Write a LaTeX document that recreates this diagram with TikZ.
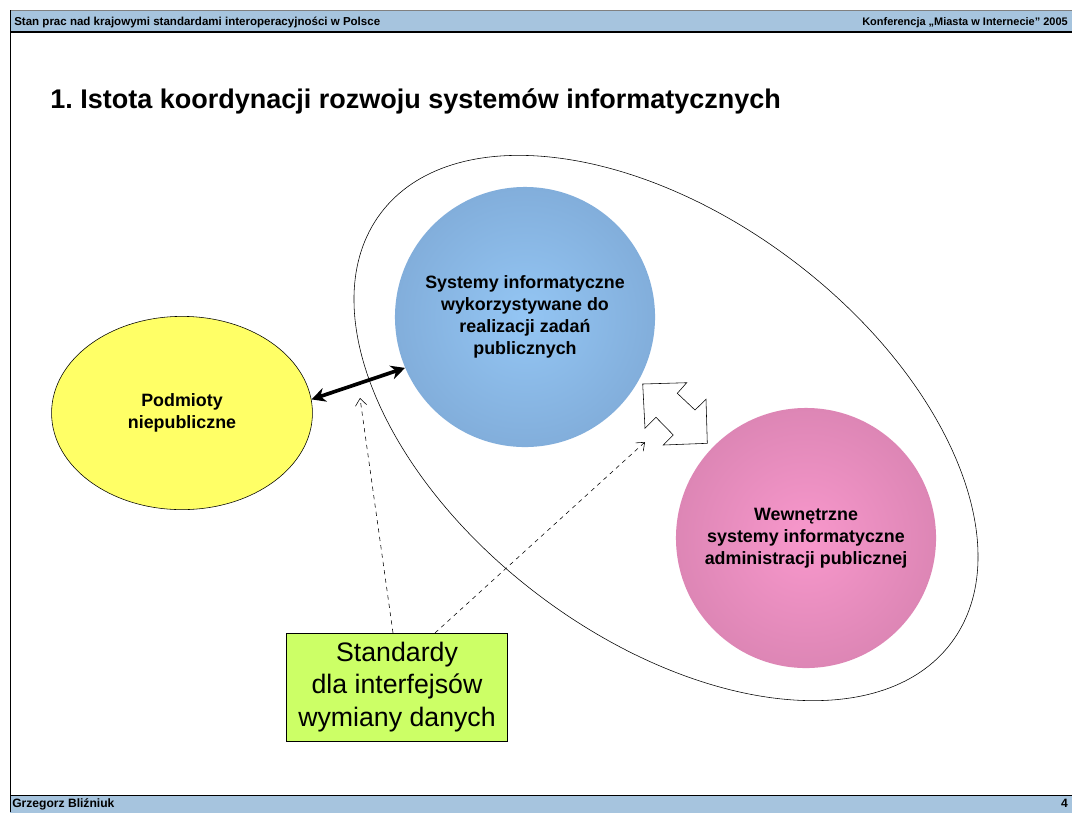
\documentclass[tikz,border=0pt]{standalone}
\usepackage{fontspec}
\setmainfont{Liberation Sans}
\usetikzlibrary{arrows.meta, shapes.geometric}
\frenchspacing

\definecolor{bandedge}{RGB}{166,196,222}
\definecolor{bandmid}{RGB}{210,238,252}
\definecolor{blueout}{RGB}{112,150,194}
\definecolor{bluein}{RGB}{148,198,244}
\definecolor{pinkout}{RGB}{194,116,158}
\definecolor{pinkin}{RGB}{248,152,204}
\definecolor{yellowfill}{RGB}{255,255,102}
\definecolor{limefill}{RGB}{204,255,102}

\pgfdeclareradialshading{bluesphere}{\pgfpoint{0bp}{0bp}}{color(0bp)=(bluein); color(50bp)=(blueout); color(100bp)=(blueout)}
\pgfdeclareradialshading{pinksphere}{\pgfpoint{0bp}{0bp}}{color(0bp)=(pinkin); color(50bp)=(pinkout); color(100bp)=(pinkout)}

\begin{document}
\begin{tikzpicture}[x=0.025cm, y=-0.025cm,
  bubble/.style={circle, minimum size=6.5cm, inner sep=0pt, align=center,
    font=\fontsize{12.7}{15.5}\selectfont\bfseries},
  stdlink/.style={dashed, thin, -{Straight Barb[length=5pt,width=8pt]}},
  band/.style={left color=bandedge, middle color=bandmid, right color=bandedge}]
\fill[white] (0,0) rectangle (1072,812);
\useasboundingbox (0,0) rectangle (1072,812);

% header and footer
\shade[band] (10,10) rectangle (1072,32);
\shade[band] (10,795) rectangle (1072,812);
\draw[thin,gray] (10,10) -- (1072,10);
\draw[line width=1.2pt] (10,32) -- (1072,32);
\draw[thin] (10,795) -- (1072,795);
\draw[thin] (10,10) -- (10,812);
\node[anchor=base west, inner sep=0pt, font=\fontsize{8.2}{10}\selectfont\bfseries] (hdrleft) at (14,25) {Stan prac nad krajowymi standardami interoperacyjności w Polsce};
\node[anchor=base east, inner sep=0pt, font=\fontsize{7.8}{10}\selectfont\bfseries] (hdrright) at (1068,25) {Konferencja „Miasta w Internecie” 2005};
\node[anchor=base west, inner sep=0pt, font=\fontsize{8.6}{10}\selectfont\bfseries] (author) at (12,807) {Grzegorz Bliźniuk};
\node[anchor=base east, inner sep=0pt, font=\fontsize{8.6}{10}\selectfont\bfseries] (pageno) at (1068,807) {4};

\node[anchor=base west, inner sep=0pt, font=\fontsize{19.2}{23}\selectfont\bfseries] (title) at (50,108) {1. Istota koordynacji rozwoju systemów informatycznych};

% public domain
\node[draw, thin, ellipse, minimum width=17.85cm, minimum height=10.5cm, rotate=-37] (domain) at (666,428) {};

\node[draw, thin, ellipse, fill=yellowfill, minimum width=6.52cm, minimum height=4.83cm, align=center,
  font=\fontsize{12.7}{15.5}\selectfont\bfseries] (outsiders) at (182,413) {Podmioty\\niepubliczne};
\node[bubble, shading=bluesphere] (publicsys) at (525,317) {Systemy informatyczne\\wykorzystywane do\\realizacji zadań\\publicznych};
\node[bubble, shading=pinksphere] (adminsys) at (806,538) {Wewnętrzne\\systemy informatyczne\\administracji publicznej};

\draw[line width=2.6pt, {Stealth[length=10pt,width=10pt]}-{Stealth[length=10pt,width=10pt]}] (outsiders.6) -- (publicsys.203);

% exchange arrow
\draw[thin, fill=white] (642.7,384) -- (686.7,382.7) -- (677.3,393.3) -- (695,410) -- (706,399.3)
  -- (707.3,443.3) -- (663.3,445) -- (673.3,435) -- (656,417.3) -- (645,428.3) -- cycle;

\node[draw, thin, fill=limefill, minimum width=5.52cm, minimum height=2.69cm, align=center,
  font=\fontsize{19}{23}\selectfont] (standards) at (397,687) {Standardy\\dla interfejsów\\wymiany danych};

\coordinate (tipone) at (360,398);
\coordinate (tiptwo) at (645,442);
\draw[stdlink] ([xshift=-0.1cm]standards.north) -- (tipone);
\draw[stdlink] ([xshift=0.95cm]standards.north) -- (tiptwo);
\end{tikzpicture}
\end{document}
